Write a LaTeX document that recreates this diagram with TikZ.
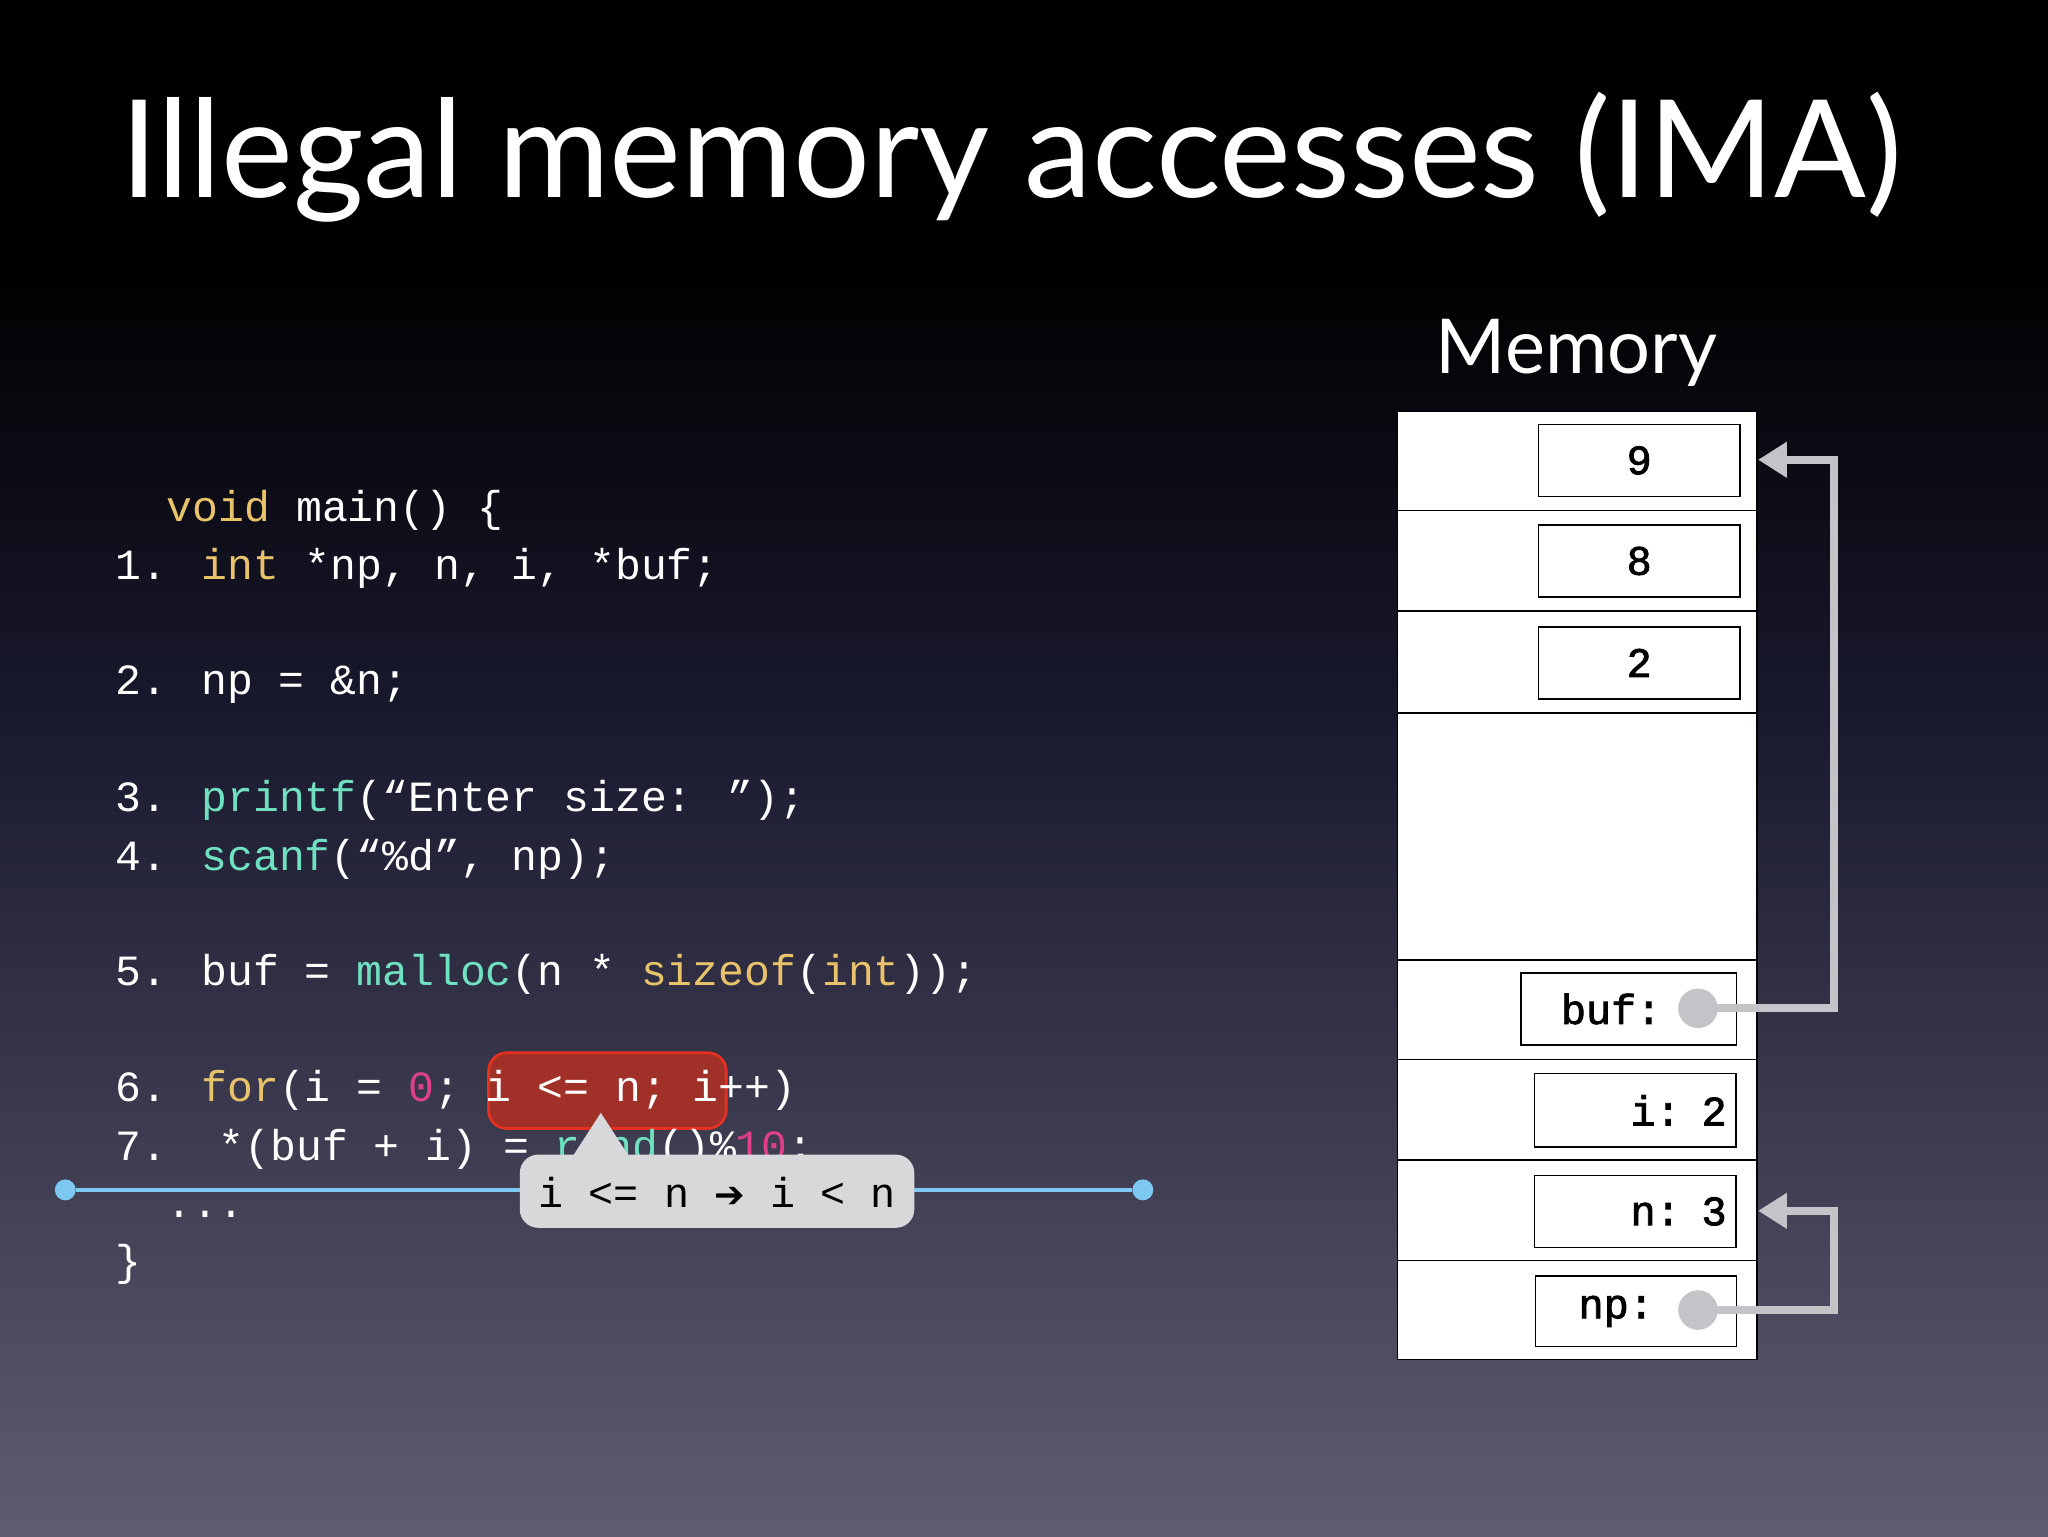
\documentclass[tikz,border=0pt]{standalone}
\usepackage{fontspec}
\setmainfont{Lato}
\newfontfamily\code{Liberation Mono}
\newfontfamily\codeb{Liberation Mono}[FakeBold=2]
\usetikzlibrary{arrows.meta}
\definecolor{kw}{HTML}{E8C36A}
\definecolor{fn}{HTML}{6FE0C0}
\definecolor{num}{HTML}{E0408A}
\definecolor{bgb}{HTML}{5F5C70}
\definecolor{bgm}{HTML}{1A1A30}
\definecolor{lb}{HTML}{7CC8F0}
\definecolor{arr}{HTML}{C4C4C8}
\definecolor{hlf}{RGB}{160,48,40}
\definecolor{hld}{RGB}{232,48,32}
\definecolor{cof}{RGB}{216,216,218}
\begin{document}
\begin{tikzpicture}[x=1pt,y=-1pt,
  cl/.style={anchor=west,text=white,font=\code\fontsize{33}{33}\selectfont,inner sep=0},
  cell/.style={draw=black,line width=1.2pt,fill=white},
  val/.style={draw=black,line width=1.2pt,fill=white,font=\codeb\fontsize{32}{32}\selectfont,inner sep=0},
  ptr/.style={arr,line width=6pt,-{Triangle[length=22pt,width=26pt]}},
  dot/.style={circle,fill=arr,minimum size=30pt,inner sep=0}]
\useasboundingbox (0,0) rectangle (1568,1176);
\fill[black] (0,0) rectangle (1568,200);
\shade[top color=black,bottom color=bgm] (0,199) rectangle (1568,560);
\shade[top color=bgm,bottom color=bgb] (0,559) rectangle (1568,1176);
\node[anchor=west,text=white,font=\fontsize{104}{104}\selectfont,inner sep=0] (title) at (92,120) {Illegal memory accesses (IMA)};
\node[text=white,font=\fontsize{58}{58}\selectfont,inner sep=0] (memlbl) at (1207,270) {Memory};
% code
\node[cl] (c0) at (88,391) {\ \ \textcolor{kw}{void} main() \{};
\node[cl] (c1) at (88,435) {1. \textcolor{kw}{int} *np, n, i, *buf;};
\node[cl] (c2) at (88,524) {2. np = \&n;};
\node[cl] (c3) at (88,613) {3. \textcolor{fn}{printf}(“Enter size: ”);};
\node[cl] (c4) at (88,658) {4. \textcolor{fn}{scanf}(“\%d”, np);};
\node[cl] (c5) at (88,746) {5. buf = \textcolor{fn}{malloc}(n * \textcolor{kw}{sizeof}(\textcolor{kw}{int}));};
\fill[fill=hlf,draw=hld,line width=2pt,rounded corners=14pt] (374,806) rectangle (556,864);
\node[cl] (c6) at (88,835) {6. \textcolor{kw}{for}(i = \textcolor{num}{0}; i <= n; i++)};
\node[cl] (c7) at (88,880) {7.\ \ *(buf + i) = \textcolor{fn}{rand}()\%\textcolor{num}{10};};
\node[cl] (c8) at (88,930) {\ \ ...};
\node[cl] (c9) at (88,968) {\}};
% blue line
\node[circle,fill=lb,minimum size=16pt,inner sep=0] (bl) at (50,911) {};
\node[circle,fill=lb,minimum size=16pt,inner sep=0] (br) at (875,911) {};
\draw[lb,line width=3.5pt] (bl) -- (br);
% callout
\fill[cof,rounded corners=14pt] (398,884) rectangle (700,940);
\fill[cof] (438,886) -- (460,852) -- (482,886) -- cycle;
\node[text=black,font=\code\fontsize{32}{32}\selectfont,inner sep=0] (tip) at (549,913) {i <= n {\fontspec{DejaVu Sans}\fontsize{28}{28}\selectfont\symbol{"2794}} i < n};
% memory
\draw[cell] (1070,315) rectangle (1345,1041);
\foreach \y in {391,468,546,735,811,888,965} \draw[black,line width=1.2pt] (1070,\y) -- (1345,\y);
\node[val,minimum width=154pt,minimum height=55pt] (m9) at (1255,352.5) {9};
\node[val,minimum width=154pt,minimum height=55pt] (m8) at (1255,429.5) {8};
\node[val,minimum width=154pt,minimum height=55pt] (m2) at (1255,507.5) {2};
\node[val,minimum width=165pt,minimum height=55pt,anchor=west,text width=148pt,align=left] (mbuf) at (1164,772.5) {\hspace*{22pt}buf:};
\node[val,minimum width=154pt,minimum height=56pt,align=right,text width=140pt] (mi) at (1252,850) {i: 2};
\node[val,minimum width=154pt,minimum height=55pt,align=right,text width=140pt] (mn) at (1252,927.5) {n: 3};
\node[val,minimum width=154pt,minimum height=54pt,anchor=west,text width=148pt,align=left] (mnp) at (1175,1004) {\hspace*{30pt}np:};
\node[dot] (dbuf) at (1300,772) {};
\node[dot] (dnp) at (1300,1003) {};
\coordinate (t9) at (1346,352);
\coordinate (tn) at (1346,927);
\draw[ptr] (dbuf.center) -- (1404,772) |- (t9);
\draw[ptr] (dnp.center) -- (1404,1003) |- (tn);
\node[dot] at (dbuf) {};
\node[dot] at (dnp) {};
\end{tikzpicture}
\end{document}
